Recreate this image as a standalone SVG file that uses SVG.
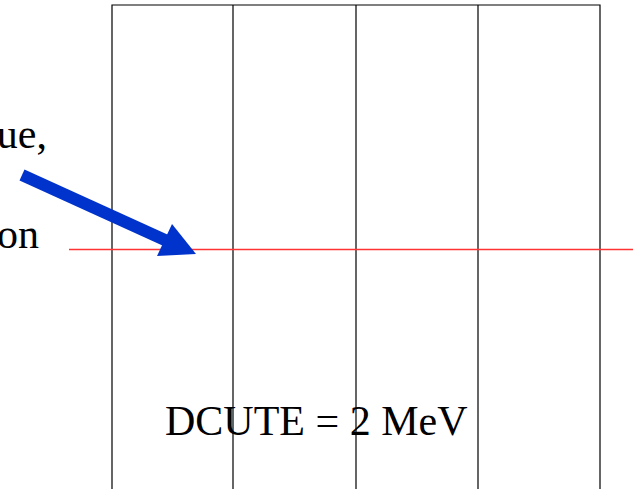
<svg xmlns="http://www.w3.org/2000/svg" width="633" height="489" viewBox="0 0 633 489">
<style>
.t{font-family:"Liberation Serif","Times New Roman",serif;font-size:42px;fill:#000}
.grid{stroke:#000;stroke-width:1.2;fill:none}
</style>
<rect width="633" height="489" fill="#fff"/>
<g id="labels">
<text class="t" x="47" y="148" text-anchor="end">ue,</text>
<text class="t" x="39" y="248" text-anchor="end">on</text>
<text class="t" x="165" y="435">DCUTE = 2 MeV</text>
</g>
<g id="grid">
<path class="grid" d="M112,489V5H600V489M233,5V489M356,5V489M478,5V489"/>
</g>
<g id="connectors">
<line x1="69" y1="249.5" x2="633" y2="249.5" stroke="#ff3333" stroke-width="1.3"/>
<line x1="22" y1="175" x2="166" y2="240.5" stroke="#0033cc" stroke-width="12"/>
<polygon points="196,254 172,224 157,256" fill="#0033cc"/>
</g>
</svg>
